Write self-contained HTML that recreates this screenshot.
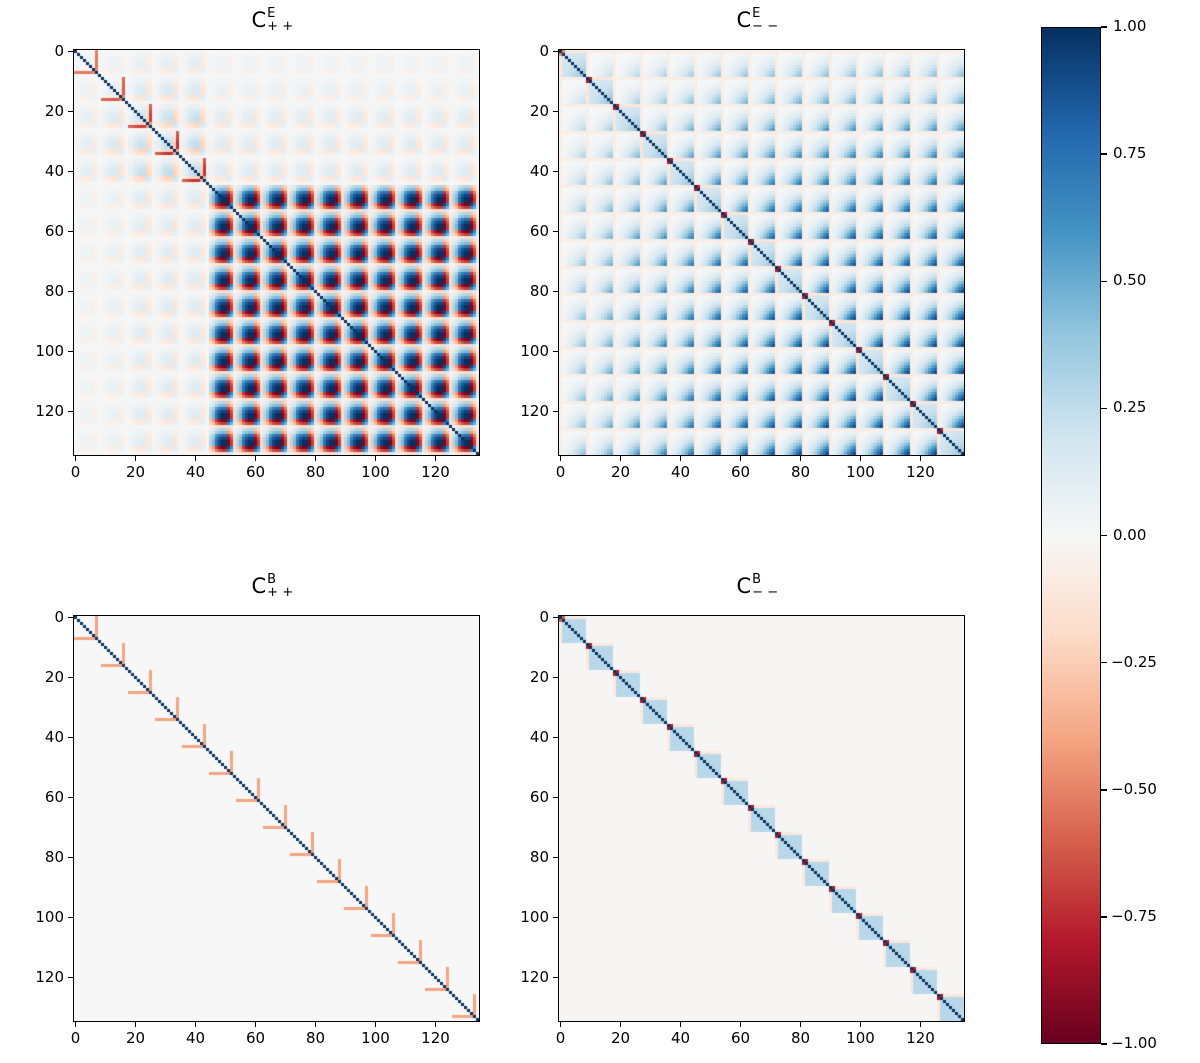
<!DOCTYPE html>
<html><head><meta charset="utf-8"><style>
body{margin:0;background:#fff;width:1200px;height:1063px;position:relative;overflow:hidden;font-family:"DejaVu Sans","Liberation Sans",sans-serif;}
canvas{position:absolute}
.frame{position:absolute;border:1.5px solid #000;box-sizing:border-box}
.tl{position:absolute;font-size:15px;color:#000;line-height:1}
.tk{position:absolute;background:#000}
.title{position:absolute;font-size:21px;line-height:1}
</style></head><body>
<div id="root"></div>
<script>
// ---- data arrays (block structure: 15 blocks x 9 bins = 135) ----
const nBlocks = 15;
const nBins = 9;
const yTicks = [0,20,40,60,80,100,120];
const xTicks = [0,20,40,60,80,100,120];
const cbTicks = [1.00,0.75,0.50,0.25,0.00,-0.25,-0.50,-0.75,-1.00];
// E++
const eppBlockAmp = [0.2,0.3,0.45,0.5,0.5,1,1,1,1,1,1,1,1,1,1];
const eppProfile = [0.3,0.45,0.75,0.92,1,1,-0.95,-0.7,-0.2];
const eppBar = [-0.5,-0.55,-0.55,-0.55,-0.55,0,0,0,0,0,0,0,0,0,0];
const eppGroupCross = [0.25];
// E--
const emmCrossAmp = [0.45,0.55,0.65,0.72,0.8,0.88,0.92,0.95,0.97,1,1,1,1,1,1];
const emmProfile = [0.0,0.08,0.15,0.25,0.35,0.5,0.65,0.82,0.95];
const emmRowTint = [-0.07];
const emmInBlock = [0.3,0.3,0.3,0.3,0.3,0.3,0.3,0.3,0.3,0.3,0.3,0.3,0.3,0.3,0.3];
const emmRedPair = [-0.5,-0.8,-0.8,-0.8,-0.8,-0.8,-0.8,-0.8,-0.8,-0.8,-0.8,-0.8,-0.8,-0.8,-0.8];
// B++
const bppBlockAmp = [0.12,0.12,0.12,0.12,0.12,0.12,0.12,0.12,0.12,0.12,0.12,0.12,0.12,0.12,0.12];
const bppProfile = [0.1,0.1,0.1,0.1,0.1,0.1,0.1,-0.3,0.1];
const bppBar = [-0.4,-0.4,-0.4,-0.4,-0.4,-0.4,-0.4,-0.4,-0.4,-0.4,-0.4,-0.4,-0.4,-0.4,-0.4];
// B--
const bmmInBlock = [0.28,0.28,0.28,0.28,0.28,0.28,0.28,0.28,0.28,0.28,0.28,0.28,0.28,0.28,0.28];
const bmmRedPair = [-0.6,-0.8,-0.8,-0.8,-0.8,-0.8,-0.8,-0.8,-0.8,-0.8,-0.8,-0.8,-0.8,-0.8,-0.8];
const bmmBackground = [-0.012];

const stops=[[-1,[103,0,31]],[-0.8,[178,24,43]],[-0.6,[214,96,77]],[-0.4,[244,165,130]],[-0.2,[253,219,199]],[0,[247,247,247]],[0.2,[209,229,240]],[0.4,[146,197,222]],[0.6,[67,147,195]],[0.8,[33,102,172]],[1,[5,48,97]]];
function cmap(v){v=Math.max(-1,Math.min(1,v));for(let s=0;s<stops.length-1;s++){const a=stops[s],b=stops[s+1];if(v<=b[0]){const t=(v-a[0])/(b[0]-a[0]);return 'rgb('+a[1].map((c,i)=>Math.round(c+(b[1][i]-c)*t)).join(',')+')';}}return 'rgb(5,48,97)';}

function valEpp(i,j){if(i===j)return 1;const bi=Math.floor(i/nBins),bj=Math.floor(j/nBins),ki=i%nBins,kj=j%nBins;
 let v=eppBlockAmp[bi]*eppBlockAmp[bj]*eppProfile[ki]*eppProfile[kj];
 if(bi!==bj&&(bi<5)!==(bj<5))v*=eppGroupCross[0];
 if(bi===bj&&((ki===7&&kj<7)||(kj===7&&ki<7)))v+=eppBar[bi];
 return v;}
function valEmm(i,j){if(i===j)return 1;const bi=Math.floor(i/nBins),bj=Math.floor(j/nBins),ki=i%nBins,kj=j%nBins;
 if(bi===bj){if((ki===0&&kj===1)||(ki===1&&kj===0))return emmRedPair[bi];
  if(ki===0||kj===0)return -0.12;
  return emmInBlock[bi]*(0.6+0.8*emmProfile[ki]*emmProfile[kj]);}
 if(ki===0||kj===0)return emmRowTint[0];
 return emmCrossAmp[bi]*emmCrossAmp[bj]*emmProfile[ki]*emmProfile[kj];}
function valBpp(i,j){if(i===j)return 1;const bi=Math.floor(i/nBins),bj=Math.floor(j/nBins),ki=i%nBins,kj=j%nBins;
 if(bi===bj&&((ki===7&&kj<7)||(kj===7&&ki<7)))return bppBar[bi];
 return bppBlockAmp[bi]*bppBlockAmp[bj]*bppProfile[ki]*bppProfile[kj]*3;}
function valBmm(i,j){if(i===j)return 1;const bi=Math.floor(i/nBins),bj=Math.floor(j/nBins),ki=i%nBins,kj=j%nBins;
 if(bi===bj){if((ki===0&&kj===1)||(ki===1&&kj===0))return bmmRedPair[bi];
  if(ki===0||kj===0)return -0.1;
  return bmmInBlock[bi];}
 return bmmBackground[0];}

const root=document.getElementById('root');
const N=nBlocks*nBins, SIZE=405;
function el(tag,cls,parent){const e=document.createElement(tag);if(cls)e.className=cls;(parent||root).appendChild(e);return e;}

const panels=[
 {left:74,top:50,fn:valEpp,sup:'E',sub:'+ +',name:'panel-e-plus'},
 {left:559,top:50,fn:valEmm,sup:'E',sub:'− −',name:'panel-e-minus'},
 {left:74,top:616,fn:valBpp,sup:'B',sub:'+ +',name:'panel-b-plus'},
 {left:559,top:616,fn:valBmm,sup:'B',sub:'− −',name:'panel-b-minus'}];

panels.forEach(p=>{
 const xs=i=>i*SIZE/N, ys=i=>i*SIZE/N;
 const c=el('canvas');c.width=SIZE;c.height=SIZE;c.style.left=p.left+'px';c.style.top=p.top+'px';
 
 
 const ctx=c.getContext('2d');
 for(let i=0;i<N;i++)for(let j=0;j<N;j++){ctx.fillStyle=cmap(p.fn(i,j));ctx.fillRect(Math.floor(xs(j)),Math.floor(ys(i)),Math.ceil(xs(j+1))-Math.floor(xs(j)),Math.ceil(ys(i+1))-Math.floor(ys(i)));}
 const f=el('div','frame');f.style.left=(p.left-1)+'px';f.style.top=(p.top-1)+'px';f.style.width=(SIZE+2)+'px';f.style.height=(SIZE+2)+'px';
 
 
 const t=el('div','title');t.innerHTML='C<span style="display:inline-flex;flex-direction:column;vertical-align:middle;font-size:13px;line-height:13px;margin-left:1px;position:relative;top:-1px"><span>'+p.sup+'</span><span>'+p.sub+'</span></span>';
 t.style.left=(p.left+SIZE/2-25)+'px';t.style.top=(p.top-42)+'px';
 
 
 yTicks.forEach(v=>{const y=p.top+ys(v)+SIZE/N/2;
  const k=el('div','tk');k.style.left=(p.left-6)+'px';k.style.top=(y-0.75)+'px';k.style.width='6px';k.style.height='1.5px';
  
  
  const l=el('div','tl');l.textContent=v;l.style.left=(p.left-70)+'px';l.style.width='60px';l.style.textAlign='right';l.style.top=(y-8)+'px';
  
  });
 xTicks.forEach(v=>{const x=p.left+xs(v)+SIZE/N/2;
  const k=el('div','tk');k.style.left=(x-0.75)+'px';k.style.top=(p.top+SIZE)+'px';k.style.width='1.5px';k.style.height='6px';
  
  
  const l=el('div','tl');l.textContent=v;l.style.left=(x-30)+'px';l.style.width='60px';l.style.textAlign='center';l.style.top=(p.top+SIZE+10)+'px';
  
  });
});

// colorbar
const cbTop=27, cbBot=1044, cbLeft=1041, cbW=60;
const cb=el('canvas');cb.width=cbW;cb.height=cbBot-cbTop;cb.style.left=cbLeft+'px';cb.style.top=cbTop+'px';


const cctx=cb.getContext('2d');
const cbY=v=>(1-v)/2*(cbBot-cbTop);
for(let y=0;y<cbBot-cbTop;y++){cctx.fillStyle=cmap(1-2*y/(cbBot-cbTop));cctx.fillRect(0,y,cbW,1);}
const cf=el('div','frame');cf.style.left=cbLeft+'px';cf.style.top=cbTop+'px';cf.style.width=cbW+'px';cf.style.height=(cbBot-cbTop)+'px';


cbTicks.forEach(v=>{const y=cbTop+cbY(v);
 const k=el('div','tk');k.style.left=(cbLeft+cbW)+'px';k.style.top=(y-0.75)+'px';k.style.width='6px';k.style.height='1.5px';
 
 
 const l=el('div','tl');l.textContent=(v<0?'−':'')+Math.abs(v).toFixed(2);l.style.left=(cbLeft+cbW+(v<0?10:12))+'px';l.style.top=(y-8)+'px';
 
 });
</script>
</body></html>
